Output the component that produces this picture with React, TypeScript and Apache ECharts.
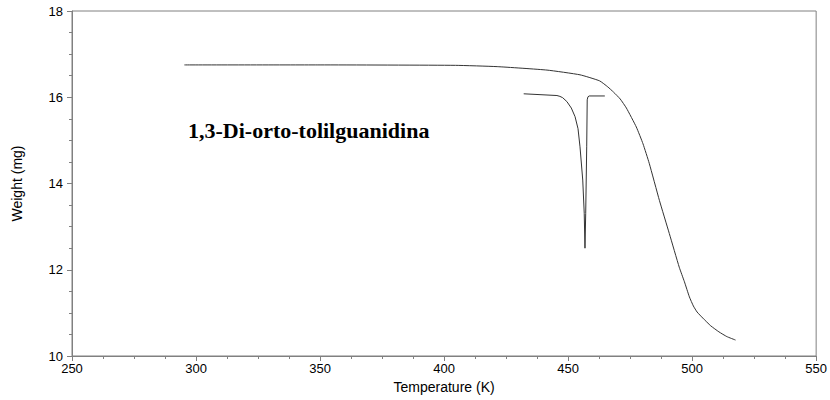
import React, { useEffect, useRef } from "react";
import * as echarts from "echarts";

const tgaT = [295.3, 350, 404.6, 421.4, 441.5, 454.8, 462.7, 466, 468.3, 471, 473.5, 477.5, 480.2, 482.7, 486.8, 490.8, 494.8, 496.9, 498.9, 500.5, 502, 504.3, 507.5, 510.8, 514, 517.5];
const tgaW = [16.75, 16.75, 16.74, 16.71, 16.63, 16.52, 16.38, 16.24, 16.12, 15.96, 15.75, 15.31, 14.92, 14.47, 13.61, 12.84, 12.06, 11.72, 11.37, 11.16, 11.02, 10.88, 10.7, 10.56, 10.45, 10.37];

const dtaT = [432.1, 445.5, 446.7, 447.8, 449.5, 451.3, 452.8, 454.0, 454.8, 455.9, 456.5, 456.8, 457.1, 457.5, 457.7, 458.0, 458.5, 464.8];
const dtaW = [16.08, 16.04, 16.02, 15.99, 15.9, 15.75, 15.55, 15.27, 14.85, 14.08, 13.31, 12.5, 13.31, 14.85, 15.94, 16.01, 16.03, 16.03];

const xTicks = { min: 250, max: 550, interval: 50 };
const yTicks = { min: 10, max: 18, interval: 2 };
const chartLabel = "1,3-Di-orto-tolilguanidina";

export default function App() {
  const ref = useRef<HTMLDivElement>(null);
  useEffect(() => {
    const chart = echarts.init(ref.current!, null, { renderer: "svg" });
    const axisColor = "#808080";
    const font = "Liberation Sans, Arial, sans-serif";
    chart.setOption({
      animation: false,
      backgroundColor: "#fff",
      grid: { left: 72, right: 9, top: 11, bottom: 44, show: true, borderColor: axisColor, borderWidth: 1 },
      xAxis: {
        type: "value",
        min: xTicks.min,
        max: xTicks.max,
        interval: xTicks.interval,
        name: "Temperature (K)",
        nameLocation: "middle",
        nameGap: 24,
        nameTextStyle: { fontFamily: font, fontSize: 14, color: "#000" },
        axisLine: { show: true, lineStyle: { color: axisColor } },
        axisTick: { show: true, inside: false, length: 5, lineStyle: { color: axisColor } },
        minorTick: { show: true, splitNumber: 4, length: 3, lineStyle: { color: axisColor } },
        splitLine: { show: false },
        axisLabel: { fontFamily: font, fontSize: 13, color: "#000", margin: 6 },
      },
      yAxis: {
        type: "value",
        min: yTicks.min,
        max: yTicks.max,
        interval: yTicks.interval,
        name: "Weight (mg)",
        nameLocation: "middle",
        nameGap: 48,
        nameRotate: 90,
        nameTextStyle: { fontFamily: font, fontSize: 14, color: "#000" },
        axisLine: { show: true, lineStyle: { color: axisColor } },
        axisTick: { show: true, inside: false, length: 5, lineStyle: { color: axisColor } },
        minorTick: { show: true, splitNumber: 4, length: 3, lineStyle: { color: axisColor } },
        splitLine: { show: false },
        axisLabel: { fontFamily: font, fontSize: 13, color: "#000", margin: 9 },
      },
      graphic: [
        {
          type: "text",
          left: 188,
          top: 119,
          style: { text: chartLabel, font: "bold 22px 'Liberation Serif', 'Times New Roman', serif", fill: "#000" },
        },
      ],
      series: [
        {
          type: "line",
          data: tgaT.map((t, i) => [t, tgaW[i]]),
          smooth: 0.15,
          showSymbol: false,
          lineStyle: { color: "#333", width: 1 },
        },
        {
          type: "line",
          data: dtaT.map((t, i) => [t, dtaW[i]]),
          smooth: false,
          showSymbol: false,
          lineStyle: { color: "#333", width: 1 },
        },
      ],
    });
    return () => chart.dispose();
  }, []);
  return <div ref={ref} style={{ width: 830, height: 400, position: "absolute", left: 0, top: 0 }} />;
}
